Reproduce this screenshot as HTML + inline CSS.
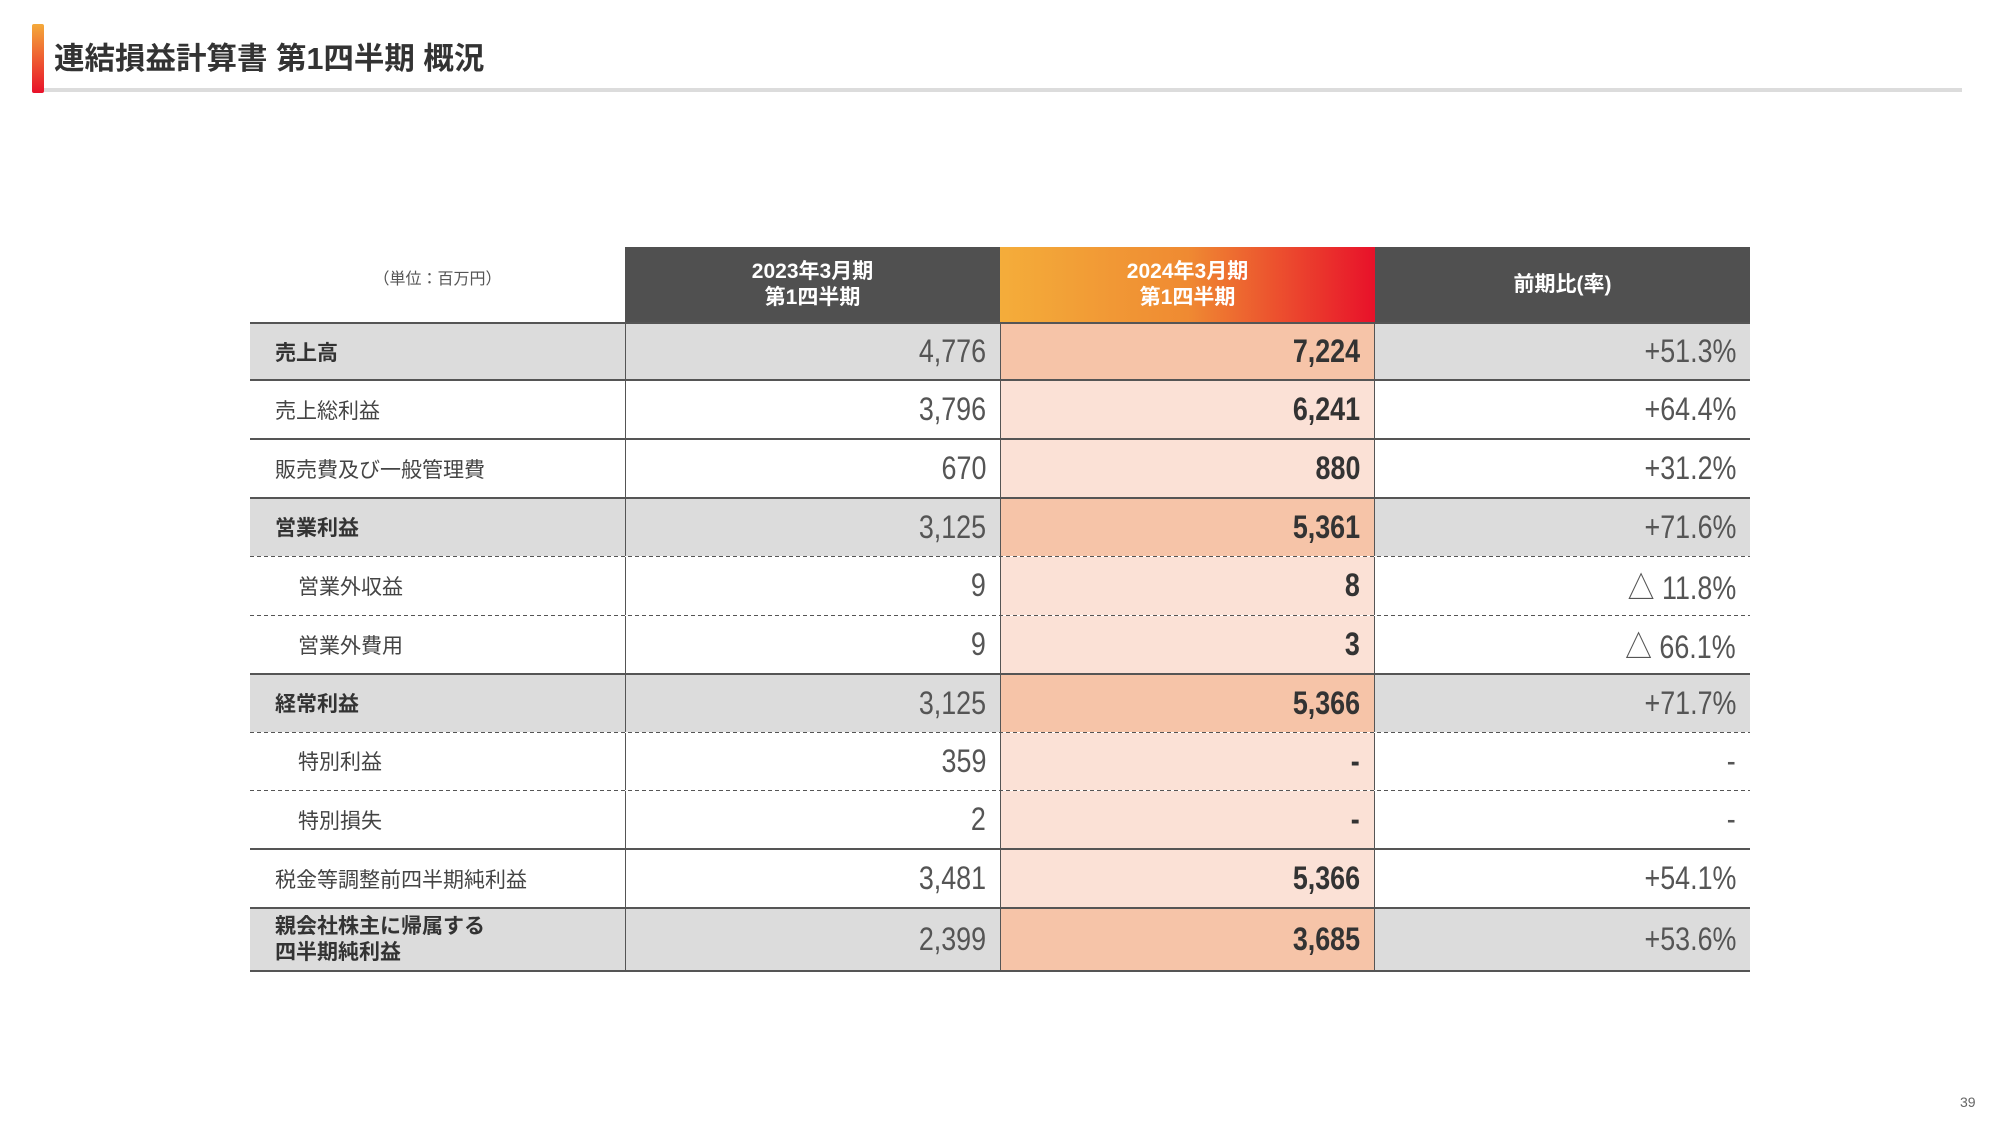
<!DOCTYPE html>
<html><head><meta charset="utf-8"><style>
*{margin:0;padding:0;box-sizing:border-box}
body{width:2000px;height:1126px;background:#fff;position:relative;overflow:hidden;font-family:"Liberation Sans","Noto Sans CJK JP",sans-serif;color:#333}
.bar{position:absolute;left:32px;top:24px;width:12px;height:69px;border-radius:2px;background:linear-gradient(#f4a93a,#e8112a)}
.title{position:absolute;left:54px;top:34px;font-size:30.5px;font-weight:bold;color:#333}
.rule{position:absolute;left:44px;top:88px;width:1918px;height:4px;background:#dcdcdc}
.unit{position:absolute;left:250px;width:375px;top:265px;text-align:center;font-size:16px;color:#555}
.hd{position:absolute;top:247px;height:75px;color:#fff;font-weight:bold;font-size:21px;line-height:26px;display:flex;align-items:center;justify-content:center;text-align:center;background:#505050}
.row{position:absolute;left:250px;width:1500px;border-bottom:2px solid #555}
.row.d{border-bottom:none;background-image:linear-gradient(90deg,#555 60%,transparent 60%);background-size:7px 1.5px;background-repeat:repeat-x;background-position:0 100%}
.c{position:absolute;top:0;height:100%;display:flex;align-items:center}
.row.d .c{height:calc(100% - 1.5px)}
.lab{left:0;width:375px;padding-left:25px;font-size:21px;color:#444}
.lab.b{font-weight:bold;color:#333}
.lab.i{padding-left:48px}
.n{display:inline-block;transform:scaleX(0.84);transform-origin:right center;font-size:32px}
.v1{left:375px;width:375px;border-left:1.5px solid #555;justify-content:flex-end;padding-right:14px;color:#555}
.v2{left:750px;width:375px;border-left:1.5px solid #555;border-right:1.5px solid #555;justify-content:flex-end;padding-right:14px;font-weight:bold;color:#333;background:#fbe1d6}
.v3{left:1125px;width:375px;justify-content:flex-end;padding-right:14px;color:#555}
.g .lab,.g .v1,.g .v3{background:#dcdcdc}
.g .v2{background:#f6c4a8}
.pg{position:absolute;left:1960px;top:1094px;font-size:14px;color:#666}
</style></head><body>
<div class="bar"></div>
<div class="title">連結損益計算書 第1四半期 概況</div>
<div class="rule"></div>
<div class="unit">（単位：百万円）</div>
<div class="hd" style="left:625px;width:375px">2023年3月期<br>第1四半期</div>
<div class="hd" style="left:1000px;width:375px;background:linear-gradient(90deg,#f4ad3a 0%,#ef8a32 50%,#e8112a 100%)">2024年3月期<br>第1四半期</div>
<div class="hd" style="left:1375px;width:375px">前期比(率)</div>

<div class="row g" style="top:322px;height:59px;border-top:2px solid #555"><div class="c lab b">売上高</div><div class="c v1"><span class="n">4,776</span></div><div class="c v2"><span class="n">7,224</span></div><div class="c v3"><span class="n">+51.3%</span></div></div>
<div class="row" style="top:381px;height:59px"><div class="c lab">売上総利益</div><div class="c v1"><span class="n">3,796</span></div><div class="c v2"><span class="n">6,241</span></div><div class="c v3"><span class="n">+64.4%</span></div></div>
<div class="row" style="top:440px;height:59px"><div class="c lab">販売費及び一般管理費</div><div class="c v1"><span class="n">670</span></div><div class="c v2"><span class="n">880</span></div><div class="c v3"><span class="n">+31.2%</span></div></div>
<div class="row g d" style="top:499px;height:58px"><div class="c lab b">営業利益</div><div class="c v1"><span class="n">3,125</span></div><div class="c v2"><span class="n">5,361</span></div><div class="c v3"><span class="n">+71.6%</span></div></div>
<div class="row d" style="top:557px;height:59px"><div class="c lab i">営業外収益</div><div class="c v1"><span class="n">9</span></div><div class="c v2"><span class="n">8</span></div><div class="c v3"><span class="n">△ 11.8%</span></div></div>
<div class="row" style="top:616px;height:59px"><div class="c lab i">営業外費用</div><div class="c v1"><span class="n">9</span></div><div class="c v2"><span class="n">3</span></div><div class="c v3"><span class="n">△ 66.1%</span></div></div>
<div class="row g d" style="top:675px;height:58px"><div class="c lab b">経常利益</div><div class="c v1"><span class="n">3,125</span></div><div class="c v2"><span class="n">5,366</span></div><div class="c v3"><span class="n">+71.7%</span></div></div>
<div class="row d" style="top:733px;height:58px"><div class="c lab i">特別利益</div><div class="c v1"><span class="n">359</span></div><div class="c v2"><span class="n">-</span></div><div class="c v3"><span class="n">-</span></div></div>
<div class="row" style="top:791px;height:59px"><div class="c lab i">特別損失</div><div class="c v1"><span class="n">2</span></div><div class="c v2"><span class="n">-</span></div><div class="c v3"><span class="n">-</span></div></div>
<div class="row" style="top:850px;height:59px"><div class="c lab">税金等調整前四半期純利益</div><div class="c v1"><span class="n">3,481</span></div><div class="c v2"><span class="n">5,366</span></div><div class="c v3"><span class="n">+54.1%</span></div></div>
<div class="row g" style="top:909px;height:63px"><div class="c lab b" style="line-height:26px">親会社株主に帰属する<br>四半期純利益</div><div class="c v1"><span class="n">2,399</span></div><div class="c v2"><span class="n">3,685</span></div><div class="c v3"><span class="n">+53.6%</span></div></div>
<div class="pg">39</div>
</body></html>
